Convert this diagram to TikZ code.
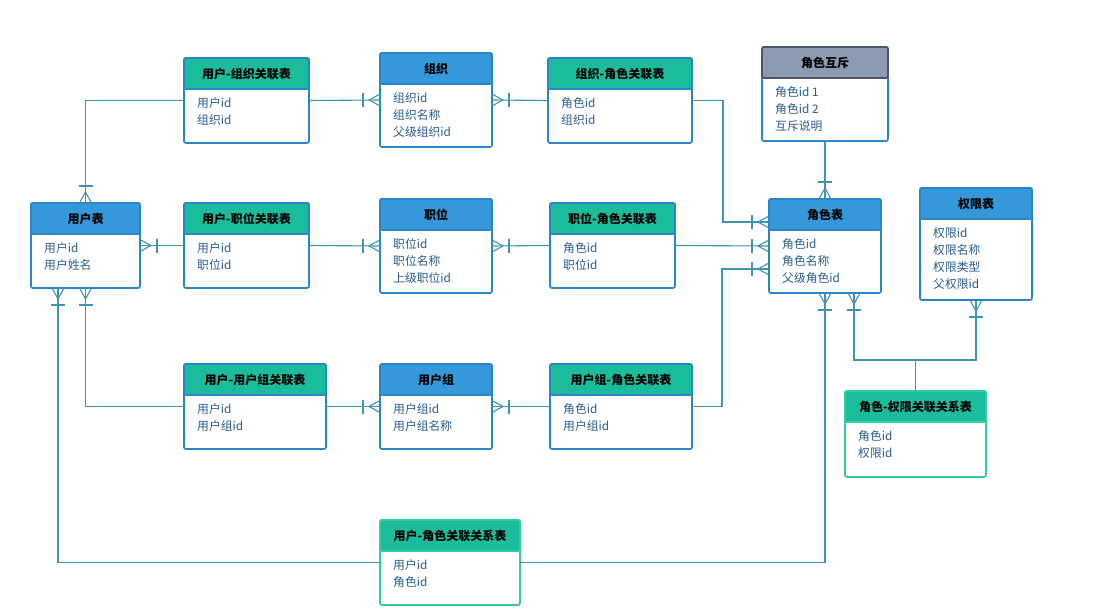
\documentclass[tikz,border=0pt]{standalone}
\usepackage{fontspec}
\setmainfont{Noto Sans CJK SC}
\usetikzlibrary{fit,calc}
\definecolor{hblue}{HTML}{3498DB}
\definecolor{hgreen}{HTML}{1ABC9C}
\definecolor{hgray}{HTML}{8E9AB2}
\definecolor{bblue}{HTML}{2B85C9}
\definecolor{bgreen}{HTML}{33CC9E}
\definecolor{bgray}{HTML}{4A5568}
\definecolor{lnk}{HTML}{3F93B5}
\definecolor{txt}{HTML}{2A5D8C}
\tikzset{
  hdB/.style={fill=hblue, draw=bblue},
  bdB/.style={draw=bblue},
  hdG/.style={fill=hgreen, draw=bblue},
  bdG/.style={draw=bblue},
  hdT/.style={fill=hgreen, draw=bgreen},
  bdT/.style={draw=bgreen},
  hdY/.style={fill=hgray, draw=bgray},
  bdY/.style={draw=bblue},
  boxline/.style={line width=1.7pt, rounded corners=2pt},
  titletext/.style={font=\fontsize{12}{14}\selectfont\bfseries, text=black, inner sep=0pt},
  rowtext/.style={font=\fontsize{11.8}{14}\selectfont, text=txt, inner sep=0pt},
  conn/.style={draw=lnk, line width=1.1pt},
  onemany/.pic={\draw[conn] (0,-6)--(11,0)--(0,6); \draw[conn] (17,-7)--(17,7);}
}
% #1 name #2 kind #3 x1 #4 y1 #5 x2 #6 y2 #7 title #8 rows
\newcommand\ent[8]{%
  \path[boxline, fill=white, bd#2] (#3,#4) rectangle (#5,#6);
  \path[boxline, hd#2] (#3,#4) rectangle (#5,#4+31);
  \node[fit={(#3,#4) (#5,#6)}, inner sep=0pt, outer sep=0pt] (#1) {};
  \node[titletext] (#1-t) at ({(#3+#5)/2},#4+15.5) {#7};
  \foreach \r [count=\i] in {#8} {
    \node[rowtext, anchor=base west] (#1-r\i) at (#3+13,#4+31+18.5+17*\i-17) {\r};
  }%
}
\begin{document}
\begin{tikzpicture}[x=1pt,y=-1pt]
\useasboundingbox[fill=white] (0,0) rectangle (1095,610);

\coordinate (rw1) at (769,222);
\coordinate (rw3) at (769,269);
\coordinate (ub2) at (58,288);
\coordinate (rb2) at (854,293);
\coordinate (rj) at (915.5,360);

\ent{uorg}{G}{184}{58}{309}{143}{用户-组织关联表}{用户id,组织id}
\ent{org}{B}{380}{53}{492}{147}{组织}{组织id,组织名称,父级组织id}
\ent{orgr}{G}{548}{58}{692}{143}{组织-角色关联表}{角色id,组织id}
\ent{mutex}{Y}{762}{47}{888}{141}{角色互斥}{角色id 1,角色id 2,互斥说明}
\ent{ut}{B}{31}{203}{140}{288}{用户表}{用户id,用户姓名}
\ent{upos}{G}{184}{203}{309}{288}{用户-职位关联表}{用户id,职位id}
\ent{pos}{B}{380}{199}{492}{293}{职位}{职位id,职位名称,上级职位id}
\ent{posr}{G}{550}{203}{675}{288}{职位-角色关联表}{角色id,职位id}
\ent{role}{B}{769}{199}{881}{293}{角色表}{角色id,角色名称,父级角色id}
\ent{perm}{B}{920}{188}{1032}{300}{权限表}{权限id,权限名称,权限类型,父权限id}
\ent{uug}{G}{184}{364}{326}{449}{用户-用户组关联表}{用户id,用户组id}
\ent{ug}{B}{380}{364}{492}{449}{用户组}{用户组id,用户组名称}
\ent{ugr}{G}{550}{364}{692}{449}{用户组-角色关联表}{角色id,用户组id}
\ent{rp}{T}{845}{391}{986}{477}{角色-权限关联关系表}{角色id,权限id}
\ent{ur}{T}{380}{520}{520}{605}{用户-角色关联关系表}{用户id,角色id}

\draw[conn] (ut.north) |- (uorg.west);
\draw[conn] (uorg.east) -- (org.west);
\draw[conn] (org.east) -- (orgr.west);
\draw[conn] (orgr.east) -- ++(31,0) |- (rw1);
\draw[conn] (mutex.south) -- (role.north);
\draw[conn] (ut.east) -- (upos.west);
\draw[conn] (upos.east) -- (pos.west);
\draw[conn] (pos.east) -- (posr.west);
\draw[conn] (posr.east) -- (role.west);
\draw[conn] (ugr.east) -- ++(30,0) |- (rw3);
\draw[conn] (ut.south) |- (uug.west);
\draw[conn] (ub2) |- (ur.west);
\draw[conn] (uug.east) -- (ug.west);
\draw[conn] (ug.east) -- (ugr.west);
\draw[conn] (ur.east) -| (role.south);
\draw[conn] (rb2) |- (rj) -| (perm.south);
\draw[conn] (rp.north) -- (rj);

\pic[rotate=90] at (ut.north) {onemany};
\pic[rotate=180] at (org.west) {onemany};
\pic at (org.east) {onemany};
\pic[rotate=180] at (rw1) {onemany};
\pic[rotate=90] at (role.north) {onemany};
\pic at (ut.east) {onemany};
\pic[rotate=180] at (pos.west) {onemany};
\pic at (pos.east) {onemany};
\pic[rotate=180] at (role.west) {onemany};
\pic[rotate=180] at (rw3) {onemany};
\pic[rotate=-90] at (ut.south) {onemany};
\pic[rotate=-90] at (ub2) {onemany};
\pic[rotate=180] at (ug.west) {onemany};
\pic at (ug.east) {onemany};
\pic[rotate=-90] at (role.south) {onemany};
\pic[rotate=-90] at (rb2) {onemany};
\pic[rotate=-90] at (perm.south) {onemany};
\end{tikzpicture}
\end{document}
